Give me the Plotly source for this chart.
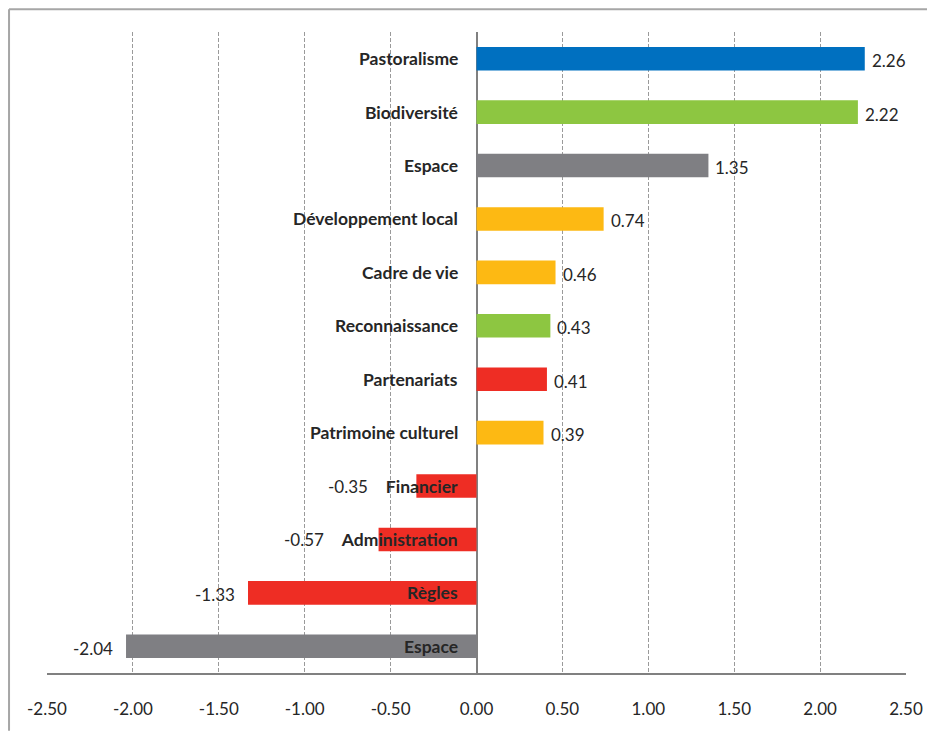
import plotly.graph_objects as go

categories = ["Pastoralisme", "Biodiversité", "Espace", "Développement local", "Cadre de vie",
              "Reconnaissance", "Partenariats", "Patrimoine culturel", "Financier",
              "Administration", "Règles", "Espace"]
values = [2.26, 2.22, 1.35, 0.74, 0.46, 0.43, 0.41, 0.39, -0.35, -0.57, -1.33, -2.04]
colors = ["#0070C0", "#8DC641", "#7F7F83", "#FDB913", "#FDB913", "#8DC641",
          "#EE2D24", "#FDB913", "#EE2D24", "#EE2D24", "#EE2D24", "#7F7F83"]
tick_vals = [-2.5, -2.0, -1.5, -1.0, -0.5, 0.0, 0.5, 1.0, 1.5, 2.0, 2.5]
tick_text = ["-2.50", "-2.00", "-1.50", "-1.00", "-0.50", "0.00", "0.50", "1.00", "1.50", "2.00", "2.50"]

FONT = "Lato"
LABEL_SIZE = 17.5
VALUE_SIZE = 17
X_MIN, X_MAX = -2.5, 2.5
PLOT_W = 860  # plot area width in px
pos = list(range(len(categories)))

fig = go.Figure()
fig.add_trace(go.Bar(
    x=values, y=pos, orientation="h", marker=dict(color=colors, line=dict(width=0)),
    width=0.44, hoverinfo="skip", showlegend=False,
))

px_per_unit = PLOT_W / (X_MAX - X_MIN)
label_gap = 17
annotations = []
for i, (c, v) in enumerate(zip(categories, values)):
    vtxt = "%.2f" % v
    # approximate extent of the bold category label (to avoid overlapping value labels)
    label_left = -(label_gap + len(c) * LABEL_SIZE * 0.54) / px_per_unit
    if v < 0 and v > label_left:
        # value label sits just left of the category label
        text = "<span style='font-size:%dpx;font-weight:normal'>%s</span>&nbsp;&nbsp;&nbsp;&nbsp;<b>%s</b>" % (VALUE_SIZE, vtxt, c)
        annotations.append(dict(x=0, y=i, xref="x", yref="y", text=text,
                                showarrow=False, xanchor="right", yanchor="middle", xshift=-label_gap,
                                font=dict(family=FONT, size=LABEL_SIZE, color="#262626")))
        continue
    annotations.append(dict(x=0, y=i, xref="x", yref="y", text="<b>%s</b>" % c,
                            showarrow=False, xanchor="right", yanchor="middle", xshift=-label_gap,
                            font=dict(family=FONT, size=LABEL_SIZE, color="#262626")))
    annotations.append(dict(x=v, y=i, xref="x", yref="y", text=vtxt,
                            showarrow=False, xanchor="left" if v >= 0 else "right",
                            yanchor="middle", xshift=5 if v >= 0 else -11, yshift=-2,
                            font=dict(family=FONT, size=VALUE_SIZE, color="#262626")))

fig.update_layout(
    width=927, height=723,
    margin=dict(l=39, r=28, t=24, b=52),
    paper_bgcolor="white", plot_bgcolor="white",
    annotations=annotations,
    xaxis=dict(range=[X_MIN, X_MAX], tickvals=tick_vals, ticktext=tick_text,
               showgrid=True, gridcolor="#9a9a9a", gridwidth=1, griddash="4px,2px",
               zeroline=True, zerolinecolor="#808080", zerolinewidth=2,
               showline=True, linecolor="#808080", linewidth=2,
               ticks="outside", ticklen=20, tickcolor="rgba(0,0,0,0)",
               tickfont=dict(family=FONT, size=17, color="#262626"), fixedrange=True),
    yaxis=dict(range=[11.5, -0.5], showticklabels=False, showgrid=False,
               zeroline=False, showline=False, ticks=""),
    shapes=[
        dict(type="line", xref="paper", yref="paper", x0=-0.0442, x1=1.04, y0=1.0355, y1=1.0355,
             line=dict(color="#a6a6a6", width=2)),
        dict(type="line", xref="paper", yref="paper", x0=-0.0442, x1=-0.0442, y0=1.0355, y1=-0.09,
             line=dict(color="#a6a6a6", width=2)),
    ],
)

fig.write_html("out.html")
